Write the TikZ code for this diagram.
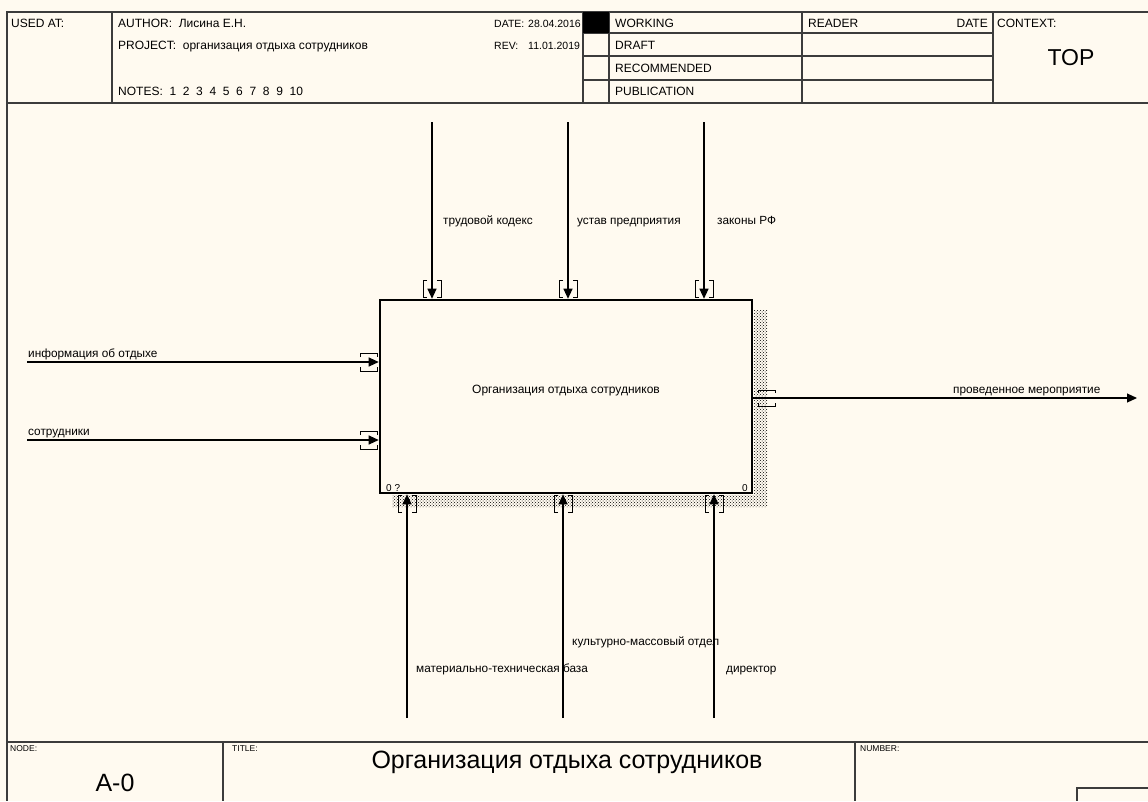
\documentclass[tikz,border=0pt]{standalone}
\usepackage{fontspec}
\setmainfont{Liberation Sans}
\usetikzlibrary{arrows.meta,positioning,patterns}
\definecolor{paper}{RGB}{255,250,240}
\definecolor{frameline}{RGB}{60,60,60}

\tikzset{
  lbl/.style={font=\fontsize{11.8}{14}\selectfont, inner sep=0pt, anchor=base west},
  hdr/.style={font=\fontsize{12}{14}\selectfont, inner sep=0pt, anchor=base west},
  hdrsmall/.style={font=\fontsize{10.5}{12}\selectfont, inner sep=0pt, anchor=base west},
  tag/.style={font=\fontsize{8.5}{9}\selectfont, inner sep=0pt, anchor=north west},
  big/.style={font=\fontsize{25}{28}\selectfont, inner sep=0pt},
  frame/.style={draw=frameline, line width=2pt},
  flow/.style={-{Triangle[length=10pt,width=9pt]}, line width=1.1pt},
  funcbox/.style={draw, line width=2.6pt, fill=paper, minimum width=372pt, minimum height=193pt, inner sep=0pt, font=\fontsize{12}{14}\selectfont},
  tunnel/.pic={\draw[line width=1pt] (-18,-5) -- (-18,-9) -- (-1,-9) -- (-1,-5) (-18,5) -- (-18,9) -- (-1,9) -- (-1,5);},
  tunnelout/.pic={\draw[line width=1pt] (5,-5) -- (5,-8) -- (22,-8) -- (22,-5) (5,5) -- (5,8) -- (22,8) -- (22,5);},
}

\begin{document}
\begin{tikzpicture}[x=1pt, y=-1pt]
    \fill[paper] (0,0) rectangle (1148,801);
    \useasboundingbox (0,0) rectangle (1148,801);

    % Frame
    \draw[frame] (1148,12) -- (7,12) -- (7,801);
    \draw[frame] (7,103) -- (1148,103);
    \draw[frame] (7,742) -- (1148,742);
    \foreach \x in {112,583,609,802,993}
        \draw[frame] (\x,12) -- (\x,103);
    \foreach \y in {33,56,80}
        \draw[frame] (583,\y) -- (993,\y);
    \fill[black] (583,12) rectangle (609,33);
    \draw[frame] (223,742) -- (223,801);
    \draw[frame] (855,742) -- (855,801);
    \draw[frame] (1148,788) -- (1077,788) -- (1077,801);

    % Header
    \node[hdr] (used_at) at (11,27) {USED AT:};
    \node[hdr] (author) at (118,27) {AUTHOR:\ \ Лисина Е.Н.};
    \node[hdr] (project) at (118,49) {PROJECT:\ \ организация отдыха сотрудников};
    \node[hdr] (notes) at (118,95) {NOTES:\ \ 1\ \ 2\ \ 3\ \ 4\ \ 5\ \ 6\ \ 7\ \ 8\ \ 9\ \ 10};
    \node[hdrsmall] (date) at (494,27) {DATE:};
    \node[hdrsmall] (date_val) at (528,27) {28.04.2016};
    \node[hdrsmall] (rev) at (494,49) {REV:};
    \node[hdrsmall] (rev_val) at (528,49) {11.01.2019};
    \node[hdr] (working) at (615,27) {WORKING};
    \node[hdr] (draft) at (615,49) {DRAFT};
    \node[hdr] (recommended) at (615,72) {RECOMMENDED};
    \node[hdr] (publication) at (615,95) {PUBLICATION};
    \node[hdr] (reader) at (808,27) {READER};
    \node[hdr, anchor=base east] (reader_date) at (988,27) {DATE};
    \node[hdr] (context) at (997,27) {CONTEXT:};
    \node[font=\fontsize{23}{26}\selectfont, inner sep=0pt] (context_top) at (1071,58) {TOP};

    % Shadow
    \fill[pattern=crosshatch dots, pattern color=black] (754,310) -- (767,310) -- (767,507) -- (392,507) -- (392,495) -- (754,495) -- cycle;

    % Nodes
    \node[funcbox] (org_box) at (566,396.5) {};
    \node[font=\fontsize{12}{14}\selectfont, inner sep=0pt] (org_text) at (566,391) {Организация отдыха сотрудников};
    \node[font=\fontsize{10}{12}\selectfont, inner sep=0pt, anchor=base west] (box_id) at (386,491) {0 ?};
    \node[font=\fontsize{10}{12}\selectfont, inner sep=0pt, anchor=base west] (box_num) at (742,491) {0};

    \coordinate (ctl_kodeks) at (432,122);
    \coordinate (ctl_ustav) at (568,122);
    \coordinate (ctl_zakony) at (704,122);
    \coordinate (in_info) at (27,362);
    \coordinate (in_staff) at (27,440);
    \coordinate (out_event) at (1137,398);
    \coordinate (mech_base) at (407,718);
    \coordinate (mech_dept) at (563,718);
    \coordinate (mech_director) at (714,718);

    \node[lbl] (kodeks_label) at (443,224) {трудовой кодекс};
    \node[lbl] (ustav_label) at (577,224) {устав предприятия};
    \node[lbl] (zakony_label) at (717,224) {законы РФ};
    \node[lbl] (info_label) at (28,357) {информация об отдыхе};
    \node[lbl] (staff_label) at (28,435) {сотрудники};
    \node[lbl] (event_label) at (953,393) {проведенное мероприятие};
    \node[lbl] (base_label) at (416,672) {материально-техническая база};
    \node[lbl] (dept_label) at (572,645) {культурно-массовый отдел};
    \node[lbl] (director_label) at (726,672) {директор};

    % Arrows
    \draw[flow] (ctl_kodeks) -- (ctl_kodeks |- org_box.north);
    \draw[flow] (ctl_ustav) -- (ctl_ustav |- org_box.north);
    \draw[flow] (ctl_zakony) -- (ctl_zakony |- org_box.north);
    \draw[flow] (in_info) -- (in_info -| org_box.west);
    \draw[flow] (in_staff) -- (in_staff -| org_box.west);
    \draw[flow] (out_event -| org_box.east) -- (out_event);
    \draw[flow] (mech_base) -- (mech_base |- org_box.south);
    \draw[flow] (mech_dept) -- (mech_dept |- org_box.south);
    \draw[flow] (mech_director) -- (mech_director |- org_box.south);

    % Tunnel brackets
    \foreach \c in {ctl_kodeks,ctl_ustav,ctl_zakony}
        \pic[rotate=-90] at (\c |- org_box.north) {tunnel};
    \foreach \c in {in_info,in_staff}
        \pic at (\c -| org_box.west) {tunnel};
    \foreach \c in {mech_base,mech_dept,mech_director}
        \pic[rotate=90] at (\c |- org_box.south) {tunnel};
    \pic at (out_event -| org_box.east) {tunnelout};

    % Footer
    \node[tag] (node_tag) at (10,745) {NODE:};
    \node[big] (node_id) at (115,783) {A-0};
    \node[tag] (title_tag) at (232,745) {TITLE:};
    \node[big] (title) at (567,762) {Организация отдыха сотрудников};
    \node[tag] (number_tag) at (860,745) {NUMBER:};
  \end{tikzpicture}
\end{document}
